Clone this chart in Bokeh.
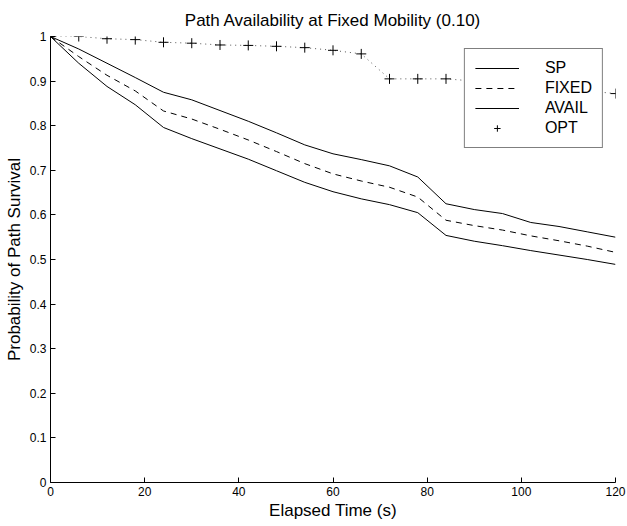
from bokeh.plotting import figure
from bokeh.models import Range1d, FixedTicker, Legend, LegendItem
from bokeh.embed import file_html
from bokeh.resources import INLINE

# ---- data ----
time_s = [0, 6, 12, 18, 24, 30, 36, 42, 48, 54, 60, 66, 72, 78, 84, 90, 96, 102, 108, 114, 120]
sp = [1.0, 0.972, 0.94, 0.908, 0.875, 0.858, 0.834, 0.81, 0.784, 0.757, 0.737, 0.724, 0.71, 0.685,
      0.625, 0.612, 0.603, 0.583, 0.574, 0.562, 0.55]
fixed = [1.0, 0.955, 0.913, 0.878, 0.833, 0.815, 0.792, 0.768, 0.742, 0.715, 0.692, 0.676, 0.662, 0.64,
         0.588, 0.576, 0.566, 0.553, 0.542, 0.53, 0.516]
avail = [1.0, 0.94, 0.888, 0.847, 0.796, 0.771, 0.748, 0.725, 0.699, 0.673, 0.652, 0.636, 0.623, 0.605,
         0.554, 0.541, 0.531, 0.52, 0.51, 0.5, 0.489]
opt = [1.0, 1.0, 0.995, 0.993, 0.987, 0.985, 0.981, 0.98, 0.978, 0.975, 0.969, 0.961, 0.905, 0.905,
       0.905, 0.9, 0.895, 0.89, 0.885, 0.878, 0.872]

x_ticks = [0, 20, 40, 60, 80, 100, 120]
y_ticks = [0, 0.1, 0.2, 0.3, 0.4, 0.5, 0.6, 0.7, 0.8, 0.9, 1]
y_tick_labels = ["0", "0.1", "0.2", "0.3", "0.4", "0.5", "0.6", "0.7", "0.8", "0.9", "1"]

title_text = "Path Availability at Fixed Mobility (0.10)"
x_label = "Elapsed Time (s)"
y_label = "Probability of Path Survival"

FONT = "Liberation Sans"

p = figure(width=627, height=526, output_backend="svg", toolbar_location=None,
           x_range=Range1d(0, 120), y_range=Range1d(0, 1),
           min_border_left=50, min_border_right=12, min_border_top=36, min_border_bottom=44)

p.title.text = title_text
p.title.text_font = FONT
p.title.text_font_size = "17px"
p.title.text_font_style = "normal"
p.title.align = "center"
p.title.text_color = "black"
p.title.standoff = 13

p.outline_line_color = None
p.xgrid.visible = False
p.ygrid.visible = False

for ax in (p.xaxis[0], p.yaxis[0]):
    ax.axis_line_color = "black"
    ax.major_tick_line_color = "black"
    ax.major_tick_in = 5
    ax.major_tick_out = 0
    ax.minor_tick_line_color = None
    ax.major_label_text_font = FONT
    ax.major_label_text_font_size = "12px"
    ax.major_label_text_color = "black"
    ax.axis_label_text_font = FONT
    ax.axis_label_text_font_size = "17px"
    ax.axis_label_text_font_style = "normal"
    ax.axis_label_text_color = "black"
    ax.major_label_standoff = 4

p.xaxis[0].ticker = FixedTicker(ticks=x_ticks)
p.yaxis[0].ticker = FixedTicker(ticks=y_ticks)
p.yaxis[0].major_label_overrides = {t: l for t, l in zip(y_ticks, y_tick_labels)}
p.xaxis[0].axis_label = x_label
p.yaxis[0].axis_label = y_label
p.xaxis[0].axis_label_standoff = 2
p.yaxis[0].axis_label_standoff = 3

r_sp = p.line(time_s, sp, line_color="black", line_width=1)
r_fixed = p.line(time_s, fixed, line_color="black", line_width=1, line_dash="6 5")
r_avail = p.line(time_s, avail, line_color="black", line_width=1)
p.line(time_s, opt, line_color="#555555", line_width=1, line_dash="1 4")
r_opt = p.scatter(time_s, opt, marker="cross", size=10, line_color="black", line_width=1)

legend = Legend(items=[
    LegendItem(label="SP", renderers=[r_sp]),
    LegendItem(label="FIXED", renderers=[r_fixed]),
    LegendItem(label="AVAIL", renderers=[r_avail]),
    LegendItem(label="OPT", renderers=[r_opt]),
], location="top_right")
legend.margin = 12
legend.padding = 10
legend.spacing = 2
legend.glyph_width = 44
legend.glyph_height = 16
legend.label_height = 16
legend.label_standoff = 26
legend.label_text_font = FONT
legend.label_text_font_size = "16px"
legend.label_text_color = "black"
legend.border_line_color = "black"
legend.border_line_width = 1
legend.background_fill_alpha = 1
legend.background_fill_color = "white"
p.add_layout(legend)

open("out.html", "w").write(file_html(p, INLINE))
